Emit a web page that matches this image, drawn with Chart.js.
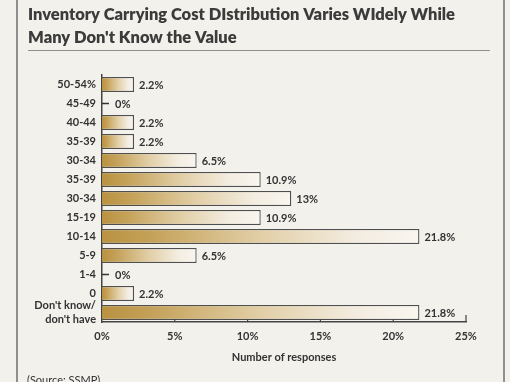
<!DOCTYPE html>
<html>
<head>
<meta charset="utf-8">
<script src="https://cdn.jsdelivr.net/npm/chart.js@4"></script>
<style>
  html, body { margin: 0; padding: 0; background: #f3f2ed; }
  #wrap { width: 510px; height: 382px; position: relative; }
</style>
</head>
<body>
<div id="wrap"><canvas id="c" width="510" height="382"></canvas></div>
<script>
const titleLines = ["Inventory Carrying Cost DIstribution Varies WIdely While", "Many Don't Know the Value"];
const categories = ["50-54%", "45-49", "40-44", "35-39", "30-34", "35-39", "30-34", "15-19", "10-14", "5-9", "1-4", "0", ["Don't know/", "don't have"]];
const values = [2.2, 0, 2.2, 2.2, 6.5, 10.9, 13, 10.9, 21.8, 6.5, 0, 2.2, 21.8];
const xTickValues = [0, 5, 10, 15, 20, 25];
const xAxisTitle = "Number of responses";
const sourceText = "(Source: SSMP)";

const FONT = "Lato, 'DejaVu Sans', sans-serif";
const TEXT = "#333";

const decorPlugin = {
  id: 'decor',
  beforeDraw(chart) {
    const ctx = chart.ctx;
    ctx.save();
    ctx.fillStyle = '#f2f1ec';
    ctx.fillRect(0, 0, chart.width, chart.height);
    // frame lines
    ctx.strokeStyle = '#6e6e6e';
    ctx.lineWidth = 1.5;
    ctx.beginPath(); ctx.moveTo(17, 0); ctx.lineTo(17, chart.height); ctx.stroke();
    ctx.beginPath(); ctx.moveTo(504, 0); ctx.lineTo(504, chart.height); ctx.stroke();
    // title
    ctx.fillStyle = '#3b3b3b';
    ctx.textBaseline = 'alphabetic';
    ctx.textAlign = 'left';
    ctx.font = "800 16px " + FONT;
    const w = ctx.measureText(titleLines[0]).width;
    const size = 16 * 427 / w;
    ctx.font = "800 " + size.toFixed(2) + "px " + FONT;
    ctx.fillText(titleLines[0], 28, 20);
    ctx.fillText(titleLines[1], 28, 43);
    // separator
    ctx.strokeStyle = '#8f8f8f';
    ctx.lineWidth = 1;
    ctx.beginPath(); ctx.moveTo(28, 50.5); ctx.lineTo(490, 50.5); ctx.stroke();
    // source
    ctx.font = "11px " + FONT;
    ctx.fillStyle = TEXT;
    ctx.textBaseline = 'top';
    ctx.fillText(sourceText, 27, 375);
    ctx.restore();
  },
  afterDatasetsDraw(chart) {
    const ctx = chart.ctx;
    const meta = chart.getDatasetMeta(0);
    const xs = chart.scales.x;
    const base = xs.getPixelForValue(0);
    ctx.save();
    ctx.font = "bold 11px " + FONT;
    ctx.fillStyle = TEXT;
    ctx.textBaseline = 'middle';
    ctx.textAlign = 'left';
    meta.data.forEach((el, i) => {
      const v = values[i];
      const label = v + '%';
      if (v === 0) {
        ctx.strokeStyle = '#333';
        ctx.lineWidth = 1.5;
        ctx.beginPath(); ctx.moveTo(base, el.y); ctx.lineTo(base + 7, el.y); ctx.stroke();
        ctx.fillText(label, base + 13, el.y + 1);
      } else {
        ctx.fillText(label, el.x + 5, el.y + 1);
      }
    });
    // upward tick marks on x axis
    const yb = chart.chartArea.bottom;
    ctx.strokeStyle = '#444';
    ctx.lineWidth = 1.2;
    xTickValues.forEach(t => {
      if (t === 0) return;
      const px = xs.getPixelForValue(t);
      const len = t === xTickValues[xTickValues.length - 1] ? 7 : 2.5;
      ctx.beginPath(); ctx.moveTo(px, yb); ctx.lineTo(px, yb - len); ctx.stroke();
    });
    ctx.restore();
  }
};

function barFill(c) {
  const chart = c.chart;
  const { chartArea, scales } = chart;
  if (!chartArea || c.type !== 'data' || !scales.x) return '#c9aa66';
  const x0 = scales.x.getPixelForValue(0);
  const x1 = scales.x.getPixelForValue(c.raw);
  if (x1 - x0 < 1) return '#c9aa66';
  const g = chart.ctx.createLinearGradient(x0, 0, x1, 0);
  g.addColorStop(0, '#b99241');
  g.addColorStop(0.15, '#c4a158');
  g.addColorStop(0.5, '#e2cfa7');
  g.addColorStop(0.8, '#f3ece0');
  g.addColorStop(1, '#f9f6f0');
  return g;
}

new Chart(document.getElementById('c'), {
  type: 'bar',
  data: {
    labels: categories,
    datasets: [{
      data: values,
      backgroundColor: barFill,
      borderColor: '#4f4f4f',
      borderWidth: (c) => (c.raw === 0 ? 0 : 1.3),
      borderSkipped: 'start',
      categoryPercentage: 1,
      barPercentage: 0.79
    }]
  },
  plugins: [decorPlugin],
  options: {
    indexAxis: 'y',
    responsive: false,
    animation: false,
    devicePixelRatio: 1,
    layout: { padding: { left: 0, right: 44, top: 75, bottom: 14 } },
    plugins: { legend: { display: false }, tooltip: { enabled: false }, title: { display: false } },
    scales: {
      x: {
        type: 'linear',
        min: 0,
        max: 25,
        afterBuildTicks: (s) => { s.ticks = xTickValues.map(v => ({ value: v })); },
        ticks: {
          callback: (v) => v + '%',
          font: { family: FONT, size: 11, weight: 'bold' },
          color: TEXT,
          padding: 8,
          maxRotation: 0
        },
        grid: { display: false, drawTicks: false },
        border: { display: true, color: '#444', width: 1.5 },
        title: {
          display: true,
          text: xAxisTitle,
          font: { family: FONT, size: 11, weight: 'bold' },
          color: TEXT,
          padding: { top: 0, bottom: 4 }
        },
        afterFit: (s) => { s.height = 46; }
      },
      y: {
        type: 'category',
        ticks: {
          font: { family: FONT, size: 11, weight: 'bold', lineHeight: 1.3 },
          color: TEXT,
          padding: 6,
          autoSkip: false
        },
        grid: { display: false, drawTicks: false },
        border: { display: true, color: '#444', width: 1.5 },
        afterFit: (s) => { s.width = 102; }
      }
    }
  }
});
</script>
</body>
</html>
